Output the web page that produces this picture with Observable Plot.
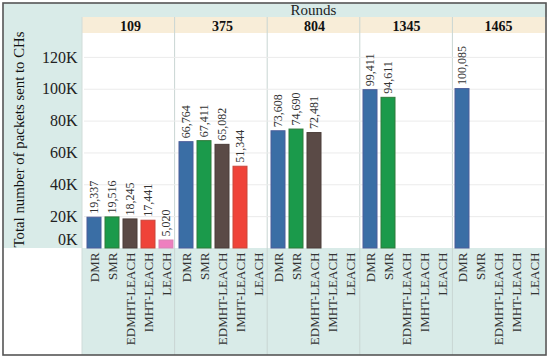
<!DOCTYPE html>
<html><head><meta charset="utf-8">
<script src="https://cdn.jsdelivr.net/npm/d3@7"></script>
<script src="https://cdn.jsdelivr.net/npm/@observablehq/plot@0.6"></script>
<style>
body{margin:0;background:#fff}
#chart{width:550px;height:359px;overflow:hidden}
</style>
</head><body><div id="chart"></div>
<script>
const rounds = ["109", "375", "804", "1345", "1465"];
const methods = ["DMR", "SMR", "EDMHT-LEACH", "IMHT-LEACH", "LEACH"];
const colors = ["#3a6ea5", "#1b9a4b", "#5a4a46", "#ef4339", "#ee7fbf"];
const strokes = ["#4a5d9a", "#2f7a3a", "#4a3c38", "#c9463a", "#d885b5"];
const dmr = [19337, 66764, 73608, 99411, 100085];
const smr = [19516, 67411, 74690, 94611, null];
const edmht = [18245, 65082, 72481, null, null];
const imht = [17441, 51344, null, null, null];
const leach = [5020, null, null, null, null];
const yTicks = [0, 20000, 40000, 60000, 80000, 100000, 120000];
const yTitle = "Total number of packets sent to CHs";
const fxTitle = "Rounds";

const series = [dmr, smr, edmht, imht, leach];
const data = [];
rounds.forEach((r, i) => methods.forEach((m, j) => {
  const v = series[j][i];
  if (v != null) data.push({round: r, method: m, value: v});
}));

const W = 550, H = 359, mL = 82, mT = 33, mB = 111, mR = 5;
const serif = "'Liberation Serif', 'Times New Roman', serif";

const plot = Plot.plot({
  width: W, height: H,
  marginLeft: mL, marginTop: mT, marginBottom: mB, marginRight: mR,
  style: {fontFamily: serif, background: "transparent", color: "#222", overflow: "visible"},
  fx: {domain: rounds, padding: 0},
  x: {domain: methods, paddingInner: 0.24, paddingOuter: 0.12},
  y: {domain: [0, 135000]},
  color: {domain: methods, range: colors},
  marks: [
    Plot.gridY(yTicks.filter(t => t > 0), {stroke: "#ebebeb", strokeOpacity: 1}),
    Plot.barY(data, {fx: "round", x: "method", y: "value", fill: "method",
      stroke: d => strokes[methods.indexOf(d.method)], strokeWidth: 1}),
    Plot.text(data, {fx: "round", x: "method", y: "value",
      text: d => d3.format(",")(d.value), rotate: -90, textAnchor: "start",
      dy: -4, fontSize: 12, fill: "#333"}),
    Plot.axisY(yTicks.filter(t => t > 0), {tickSize: 0, tickPadding: 7,
      tickFormat: d => d / 1000 + "K", fontSize: 16, label: null, fill: "#222"}),
    Plot.axisY([0], {tickSize: 0, tickPadding: 7, tickFormat: d => d / 1000 + "K",
      fontSize: 16, label: null, dy: -9, fill: "#222"}),
    Plot.axisX({tickSize: 0, tickRotate: -90, fontSize: 13, label: null, tickPadding: 4, fill: "#333"}),
    Plot.axisFx({anchor: "top", tickSize: 0, tickPadding: 3, fontSize: 14,
      fontWeight: "bold", label: null, fill: "#111"})
  ]
});

document.getElementById("chart").appendChild(plot);

// decorative backgrounds (behind the marks)
const svg = d3.select(plot);
const bg = svg.insert("g", ":first-child");
const teal = "#d9ebe8", beige = "#f8edd8";
const plotRight = W - mR, plotBottom = H - mB;
bg.append("rect").attr("x", 0).attr("y", 0).attr("width", W).attr("height", H).attr("fill", "#fff");
bg.append("rect").attr("x", 3).attr("y", 3).attr("width", 544).attr("height", 14).attr("fill", teal);
bg.append("rect").attr("x", 3).attr("y", 17).attr("width", mL - 3).attr("height", plotBottom - 17).attr("fill", teal);
bg.append("rect").attr("x", mL).attr("y", plotBottom).attr("width", plotRight - mL).attr("height", 355 - plotBottom).attr("fill", teal);
bg.append("rect").attr("x", mL).attr("y", 17).attr("width", plotRight - mL).attr("height", mT - 17).attr("fill", beige);

const step = (plotRight - mL) / rounds.length;
const bounds = rounds.map((r, i) => mL + i * step).slice(1);
bounds.forEach(x => {
  bg.append("line").attr("x1", x).attr("x2", x).attr("y1", 17).attr("y2", 355)
    .attr("stroke", "#c9d6d3").attr("stroke-width", 1);
});
bg.append("line").attr("x1", mL).attr("x2", mL).attr("y1", 17).attr("y2", 355)
  .attr("stroke", "#d0dcd9").attr("stroke-width", 1);

const fg = svg.append("g");
fg.append("text").attr("x", (mL + plotRight) / 2).attr("y", 15).attr("text-anchor", "middle")
  .attr("font-family", serif).attr("font-size", 15).attr("fill", "#222").text(fxTitle);
fg.append("text").attr("transform", `translate(24,${(mT + plotBottom) / 2 - 1}) rotate(-90)`)
  .attr("text-anchor", "middle").attr("font-family", serif).attr("font-size", 14.8)
  .attr("fill", "#111").text(yTitle);
fg.append("rect").attr("x", 3).attr("y", 3).attr("width", 543).attr("height", 352)
  .attr("fill", "none").attr("stroke", "#555").attr("stroke-width", 1.6);
</script>
</body></html>
